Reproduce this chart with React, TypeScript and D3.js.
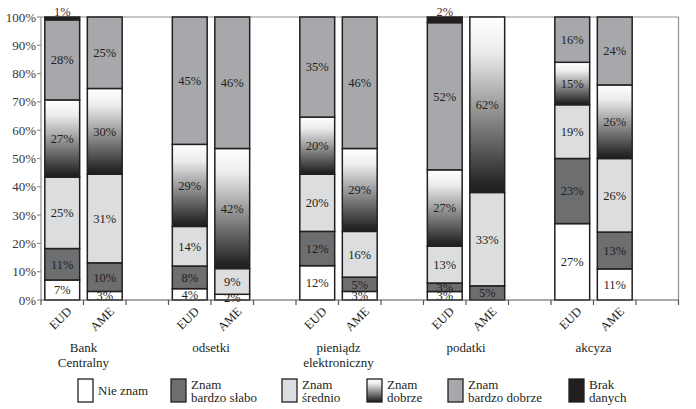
import React from 'react';
import * as d3 from 'd3';

const categories = ['Bank\nCentralny', 'odsetki', 'pieniądz\nelektroniczny', 'podatki', 'akcyza'];
const groups = ['EUD', 'AME'];
const seriesNames = ['Nie znam', 'Znam\nbardzo słabo', 'Znam\nśrednio', 'Znam\ndobrze', 'Znam\nbardzo dobrze', 'Brak\ndanych'];
// bars in order: Bank EUD, Bank AME, odsetki EUD, odsetki AME, pieniądz EUD, pieniądz AME, podatki EUD, podatki AME, akcyza EUD, akcyza AME
const nieZnam = [7, 3, 4, 2, 12, 3, 3, 0, 27, 11];
const bardzoSlabo = [11, 10, 8, 0, 12, 5, 3, 5, 23, 13];
const srednio = [25, 31, 14, 9, 20, 16, 13, 33, 19, 26];
const dobrze = [27, 30, 29, 42, 20, 29, 27, 62, 15, 26];
const bardzoDobrze = [28, 25, 45, 46, 35, 46, 52, 0, 16, 24];
const brakDanych = [1, 0, 0, 0, 0, 0, 2, 0, 0, 0];
const yTicks = [0, 10, 20, 30, 40, 50, 60, 70, 80, 90, 100];

const seriesValues = [nieZnam, bardzoSlabo, srednio, dobrze, bardzoDobrze, brakDanych];
const fills = ['#ffffff', '#6d6e70', '#dcdddf', 'url(#gradDobrze)', '#a7a8ab', '#231f20'];
const legendX = [78, 171, 282, 367, 448, 569];

export default function App() {
  const W = 696, H = 409;
  const left = 41, right = 678.5, top = 17, bottom = 300;
  const nSlots = categories.length * 3;
  const x = d3.scaleBand<number>().domain(d3.range(nSlots)).range([left, right]).paddingInner(0.18).paddingOuter(0.09);
  const step = x.step();
  const y = d3.scaleLinear().domain([0, 1]).range([bottom, top]);

  const keys = seriesValues.map((_, i) => 's' + i);
  const rows = nieZnam.map((_, b) => {
    const r: any = { bar: b };
    seriesValues.forEach((arr, i) => (r['s' + i] = arr[b]));
    return r;
  });
  const stacked = d3.stack<any>().keys(keys).offset(d3.stackOffsetExpand)(rows);
  const slotOf = (b: number) => Math.floor(b / 2) * 3 + (b % 2);
  const font = "'Liberation Serif', 'Times New Roman', serif";
  const textCol = '#231f20';

  return (
    <svg width={W} height={H} style={{ position: 'absolute', left: 0, top: 0 }}>
      <defs>
        <linearGradient id="gradDobrze" x1="0" y1="0" x2="0" y2="1">
          <stop offset="0" stopColor="#ffffff" />
          <stop offset="0.2" stopColor="#ececec" />
          <stop offset="0.95" stopColor="#262626" />
          <stop offset="1" stopColor="#1f1f1f" />
        </linearGradient>
      </defs>
      {/* frame */}
      <line x1={left} x2={right} y1={top} y2={top} stroke="#8e8f92" strokeWidth={1.2} />
      <line x1={right} x2={right} y1={top} y2={bottom} stroke="#8e8f92" strokeWidth={1.2} />
      <line x1={left} x2={left} y1={top} y2={bottom} stroke="#8e8f92" strokeWidth={1.2} />
      {yTicks.map(t => (
        <g key={t}>
          <line x1={left - 4} x2={left} y1={y(t / 100)} y2={y(t / 100)} stroke="#8e8f92" strokeWidth={1.2} />
          <text x={left - 5} y={y(t / 100)} dy="0.35em" textAnchor="end" fontFamily={font} fontSize={13} fill="#3a3536">{t}%</text>
        </g>
      ))}
      {/* bars */}
      {stacked.map((s, si) => s.map((d, b) => {
        const v = seriesValues[si][b];
        if (v === 0) return null;
        const x0 = x(slotOf(b))!;
        const y0 = y(d[1]), y1 = y(d[0]);
        return (
          <rect key={si + '-' + b} x={x0} y={y0} width={x.bandwidth()} height={y1 - y0}
            fill={fills[si]} stroke="#231f20" strokeWidth={1.5} />
        );
      }))}
      {stacked.map((s, si) => s.map((d, b) => {
        const v = seriesValues[si][b];
        if (v === 0) return null;
        const cx = x(slotOf(b))! + x.bandwidth() / 2;
        const y0 = y(d[1]), y1 = y(d[0]);
        const isTop = d[1] >= 0.9999;
        const cy = isTop && y1 - y0 < 8 ? y0 - 5 : (y0 + y1) / 2;
        return (
          <text key={'t' + si + '-' + b} x={cx} y={cy} dy="0.35em" textAnchor="middle" fontFamily={font} fontSize={12.5} fill={si === 5 ? '#5a1f22' : textCol}>{v}%</text>
        );
      }))}
      {/* x axis */}
      <line x1={left} x2={right} y1={bottom} y2={bottom} stroke="#555" strokeWidth={1.2} />
      {d3.range(nSlots + 1).map(i => (
        <line key={'xt' + i} x1={left + i * step} x2={left + i * step} y1={bottom} y2={bottom + 5} stroke="#555" strokeWidth={1.2} />
      ))}
      {nieZnam.map((_, b) => {
        const cx = x(slotOf(b))! + x.bandwidth() / 2 + 4;
        return (
          <text key={'xl' + b} transform={`translate(${cx},${bottom + 6}) rotate(-45)`} textAnchor="end" dy="0.7em" fontFamily={font} fontSize={12.5} fill={textCol}>{groups[b % 2]}</text>
        );
      })}
      {categories.map((c, ci) => {
        const cx = left + (ci * 3 + 1) * step;
        return (
          <text key={'c' + ci} x={cx} y={352} textAnchor="middle" fontFamily={font} fontSize={13} fill={textCol}>
            {c.split('\n').map((ln, li) => (
              <tspan key={li} x={cx} dy={li === 0 ? 0 : 15}>{ln}</tspan>
            ))}
          </text>
        );
      })}
      {/* legend */}
      {seriesNames.map((n, i) => {
        const lx = legendX[i];
        const lines = n.split('\n');
        return (
          <g key={'lg' + i}>
            <rect x={lx} y={379} width={15} height={23} fill={fills[i]} stroke="#231f20" strokeWidth={1.3} />
            <text x={lx + 20} y={lines.length === 1 ? 395 : 389} fontFamily={font} fontSize={13} fill={textCol}>
              {lines.map((ln, li) => (
                <tspan key={li} x={lx + 20} dy={li === 0 ? 0 : 12.5}>{ln}</tspan>
              ))}
            </text>
          </g>
        );
      })}
    </svg>
  );
}
